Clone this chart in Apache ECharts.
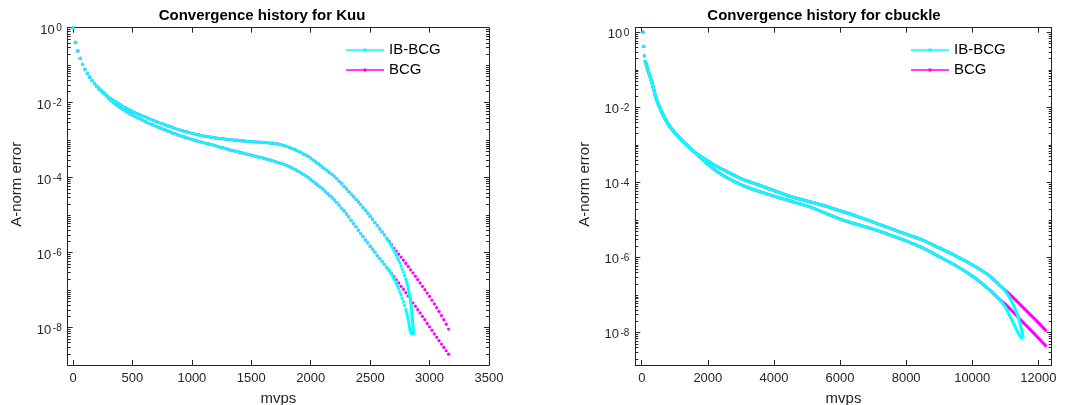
<!DOCTYPE html>
<html><head><meta charset="utf-8">
<script src="https://cdn.jsdelivr.net/npm/echarts@6/dist/echarts.min.js"></script>
<style>html,body{margin:0;padding:0;background:#fff}#c{width:1065px;height:405px}</style>
</head><body><div id="c"></div><script>
// ---------- DATA (y values are log10 of the A-norm error) ----------
const kuuBcgMvps = [
0,20,40,60,80,100,120,140,160,180,
200,220,240,260,280,300,320,340,360,380,
400,420,440,460,480,500,520,540,560,580,
600,620,640,660,680,700,720,740,760,780,
800,820,840,860,880,900,920,940,960,980,
1000,1020,1040,1060,1080,1100,1120,1140,1160,1180,
1200,1220,1240,1260,1280,1300,1320,1340,1360,1380,
1400,1420,1440,1460,1480,1500,1520,1540,1560,1580,
1600,1620,1640,1660,1680,1700,1720,1740,1760,1780,
1800,1820,1840,1860,1880,1900,1920,1940,1960,1980,
2000,2020,2040,2060,2080,2100,2120,2140,2160,2180,
2200,2220,2240,2260,2280,2300,2320,2340,2360,2380,
2400,2420,2440,2460,2480,2500,2520,2540,2560,2580,
2600,2620,2640,2660,2680,2700,2720,2740,2760,2780,
2800,2820,2840,2860,2880,2900,2920,2940,2960,2980,
3000,3020,3040,3060,3080,3100,3120,3140,3160];
const kuuBcgUpper = [
0,-0.39,-0.62,-0.82,-0.98,-1.11,-1.22,-1.32,-1.41,-1.49,
-1.56,-1.62,-1.68,-1.74,-1.80,-1.85,-1.90,-1.94,-1.98,-2.02,
-2.06,-2.10,-2.13,-2.17,-2.20,-2.23,-2.26,-2.29,-2.32,-2.35,
-2.37,-2.40,-2.43,-2.45,-2.48,-2.50,-2.53,-2.55,-2.57,-2.60,
-2.62,-2.64,-2.66,-2.69,-2.71,-2.73,-2.75,-2.77,-2.78,-2.80,
-2.82,-2.83,-2.85,-2.86,-2.88,-2.89,-2.90,-2.91,-2.92,-2.93,
-2.94,-2.95,-2.96,-2.96,-2.97,-2.98,-2.99,-2.99,-3.00,-3.00,
-3.01,-3.02,-3.02,-3.03,-3.03,-3.04,-3.04,-3.05,-3.05,-3.06,
-3.06,-3.07,-3.07,-3.08,-3.08,-3.09,-3.10,-3.11,-3.13,-3.15,
-3.17,-3.19,-3.22,-3.24,-3.27,-3.30,-3.33,-3.37,-3.40,-3.44,
-3.48,-3.53,-3.58,-3.62,-3.67,-3.72,-3.77,-3.82,-3.87,-3.92,
-3.97,-4.03,-4.10,-4.16,-4.23,-4.30,-4.37,-4.44,-4.51,-4.58,
-4.65,-4.72,-4.80,-4.87,-4.95,-5.03,-5.11,-5.20,-5.28,-5.37,
-5.45,-5.53,-5.62,-5.70,-5.79,-5.88,-5.96,-6.04,-6.12,-6.20,
-6.29,-6.37,-6.46,-6.54,-6.63,-6.72,-6.81,-6.90,-6.99,-7.08,
-7.17,-7.27,-7.37,-7.47,-7.57,-7.68,-7.79,-7.91,-8.04];
const kuuBcgLower = [
0,-0.39,-0.62,-0.82,-0.98,-1.11,-1.22,-1.32,-1.41,-1.49,
-1.57,-1.64,-1.70,-1.76,-1.82,-1.89,-1.95,-2.00,-2.05,-2.10,
-2.14,-2.18,-2.22,-2.26,-2.30,-2.33,-2.36,-2.40,-2.43,-2.46,
-2.49,-2.52,-2.55,-2.58,-2.60,-2.63,-2.66,-2.68,-2.71,-2.73,
-2.76,-2.78,-2.81,-2.83,-2.86,-2.88,-2.90,-2.92,-2.94,-2.96,
-2.98,-3.00,-3.02,-3.03,-3.05,-3.07,-3.09,-3.10,-3.12,-3.13,
-3.15,-3.17,-3.19,-3.20,-3.22,-3.24,-3.26,-3.27,-3.29,-3.30,
-3.32,-3.34,-3.35,-3.37,-3.38,-3.40,-3.42,-3.43,-3.45,-3.46,
-3.48,-3.50,-3.52,-3.53,-3.55,-3.57,-3.59,-3.61,-3.63,-3.65,
-3.68,-3.71,-3.74,-3.77,-3.80,-3.84,-3.88,-3.92,-3.96,-4.00,
-4.05,-4.10,-4.15,-4.20,-4.25,-4.30,-4.36,-4.42,-4.48,-4.54,
-4.60,-4.67,-4.74,-4.82,-4.89,-4.97,-5.05,-5.14,-5.22,-5.31,
-5.40,-5.49,-5.57,-5.66,-5.74,-5.83,-5.91,-5.99,-6.08,-6.16,
-6.24,-6.32,-6.40,-6.48,-6.56,-6.64,-6.73,-6.81,-6.90,-6.98,
-7.07,-7.16,-7.25,-7.34,-7.43,-7.52,-7.61,-7.70,-7.79,-7.89,
-7.98,-8.07,-8.17,-8.26,-8.35,-8.44,-8.53,-8.62,-8.71];
const kuuIbMvps = [
0,20,40,60,80,100,120,140,160,180,
200,220,240,260,280,300,320,340,360,380,
400,420,440,460,480,500,520,540,560,580,
600,620,640,660,680,700,720,740,760,780,
800,820,840,860,880,900,920,940,960,980,
1000,1020,1040,1060,1080,1100,1120,1140,1160,1180,
1200,1220,1240,1260,1280,1300,1320,1340,1360,1380,
1400,1420,1440,1460,1480,1500,1520,1540,1560,1580,
1600,1620,1640,1660,1680,1700,1720,1740,1760,1780,
1800,1820,1840,1860,1880,1900,1920,1940,1960,1980,
2000,2020,2040,2060,2080,2100,2120,2140,2160,2180,
2200,2220,2240,2260,2280,2300,2320,2340,2360,2380,
2400,2420,2440,2460,2480,2500,2520,2540,2560,2580,
2600,2620,2640,
2650,2660,2670,2680,2690,2700,2710,2720,2730,2740,2750,2760,2770,2780,2790,2800,
2805,2810,2815,2819,2823,2827,2830,2833,2836,2838,2840,2842,2844,2846,2848,
2849,2851,2852,2853,2854,2855,2856,2857,2858,2859,2860,2861,2862,2863];
const kuuIbUpper = [
0,-0.39,-0.62,-0.82,-0.98,-1.11,-1.22,-1.32,-1.41,-1.49,
-1.56,-1.62,-1.68,-1.74,-1.80,-1.85,-1.90,-1.94,-1.98,-2.02,
-2.06,-2.10,-2.13,-2.17,-2.20,-2.23,-2.26,-2.29,-2.32,-2.35,
-2.37,-2.40,-2.43,-2.45,-2.48,-2.50,-2.53,-2.55,-2.57,-2.60,
-2.62,-2.64,-2.66,-2.69,-2.71,-2.73,-2.75,-2.77,-2.78,-2.80,
-2.82,-2.83,-2.85,-2.86,-2.88,-2.89,-2.90,-2.91,-2.92,-2.93,
-2.94,-2.95,-2.96,-2.96,-2.97,-2.98,-2.99,-2.99,-3.00,-3.00,
-3.01,-3.02,-3.02,-3.03,-3.03,-3.04,-3.04,-3.05,-3.05,-3.06,
-3.06,-3.07,-3.07,-3.08,-3.08,-3.09,-3.10,-3.11,-3.13,-3.15,
-3.17,-3.19,-3.22,-3.24,-3.27,-3.30,-3.33,-3.37,-3.40,-3.44,
-3.48,-3.53,-3.58,-3.62,-3.67,-3.72,-3.77,-3.82,-3.87,-3.92,
-3.97,-4.03,-4.10,-4.16,-4.23,-4.30,-4.37,-4.44,-4.51,-4.58,
-4.65,-4.72,-4.80,-4.87,-4.95,-5.03,-5.11,-5.20,-5.28,-5.37,
-5.45,-5.53,-5.62,
-5.67,-5.72,-5.77,-5.82,-5.88,-5.94,-6.00,-6.07,-6.14,-6.21,-6.28,-6.36,-6.44,-6.52,-6.61,-6.70,
-6.76,-6.82,-6.88,-6.94,-7.00,-7.06,-7.11,-7.16,-7.21,-7.25,-7.30,-7.35,-7.40,-7.45,-7.50,
-7.54,-7.59,-7.63,-7.67,-7.71,-7.75,-7.79,-7.83,-7.87,-7.91,-7.96,-8.01,-8.07,-8.13];
const kuuIbLower = [
0,-0.39,-0.62,-0.82,-0.98,-1.11,-1.22,-1.32,-1.41,-1.49,
-1.57,-1.64,-1.70,-1.76,-1.82,-1.89,-1.95,-2.00,-2.05,-2.10,
-2.14,-2.18,-2.22,-2.26,-2.30,-2.33,-2.36,-2.40,-2.43,-2.46,
-2.49,-2.52,-2.55,-2.58,-2.60,-2.63,-2.66,-2.68,-2.71,-2.73,
-2.76,-2.78,-2.81,-2.83,-2.86,-2.88,-2.90,-2.92,-2.94,-2.96,
-2.98,-3.00,-3.02,-3.03,-3.05,-3.07,-3.09,-3.10,-3.12,-3.13,
-3.15,-3.17,-3.19,-3.20,-3.22,-3.24,-3.26,-3.27,-3.29,-3.30,
-3.32,-3.34,-3.35,-3.37,-3.38,-3.40,-3.42,-3.43,-3.45,-3.46,
-3.48,-3.50,-3.52,-3.53,-3.55,-3.57,-3.59,-3.61,-3.63,-3.65,
-3.68,-3.71,-3.74,-3.77,-3.80,-3.84,-3.88,-3.92,-3.96,-4.00,
-4.05,-4.10,-4.15,-4.20,-4.25,-4.30,-4.36,-4.42,-4.48,-4.54,
-4.60,-4.67,-4.74,-4.82,-4.89,-4.97,-5.05,-5.14,-5.22,-5.31,
-5.40,-5.49,-5.57,-5.66,-5.74,-5.83,-5.91,-5.99,-6.08,-6.16,
-6.24,-6.32,-6.40,
-6.44,-6.48,-6.53,-6.58,-6.64,-6.70,-6.76,-6.83,-6.90,-6.97,-7.05,-7.13,-7.22,-7.31,-7.41,-7.52,
-7.58,-7.65,-7.72,-7.78,-7.84,-7.90,-7.95,-8.00,-8.05,-8.08,-8.10,-8.12,-8.13,-8.14,-8.14,
-8.15,-8.15,-8.15,-8.15,-8.15,-8.15,-8.15,-8.15,-8.15,-8.15,-8.15,-8.15,-8.15,-8.15];

const cbIbMvps = [40,60,80,100,200,300,450,600,800,1000,1200,1500,1700,2000,2200,2500,3000,3500,4000,4500,5000,5500,6000,6500,7000,7500,8000,8500,9000,9500,10000,10500,10800,11000,11160,11300,11410,11480,11520,11545];
const cbIbUpper = [0,-0.38,-0.63,-0.75,-1.05,-1.32,-1.80,-2.12,-2.45,-2.68,-2.87,-3.12,-3.26,-3.43,-3.54,-3.68,-3.90,-4.06,-4.22,-4.38,-4.50,-4.62,-4.76,-4.90,-5.06,-5.22,-5.38,-5.54,-5.75,-5.96,-6.20,-6.48,-6.72,-6.90,-7.12,-7.38,-7.64,-7.88,-8.04,-8.13];
const cbIbLower = [0,-0.38,-0.63,-0.75,-1.05,-1.32,-1.80,-2.12,-2.45,-2.68,-2.87,-3.12,-3.28,-3.52,-3.66,-3.84,-4.06,-4.23,-4.37,-4.50,-4.63,-4.80,-4.98,-5.12,-5.25,-5.40,-5.56,-5.75,-5.98,-6.22,-6.50,-6.85,-7.10,-7.32,-7.60,-7.85,-8.05,-8.14,-8.15,-8.15];
const cbBcgMvps = [40,60,80,100,200,300,450,600,800,1000,1200,1500,1700,2000,2200,2500,3000,3500,4000,4500,5000,5500,6000,6500,7000,7500,8000,8500,9000,9500,10000,10500,10800,11000,11250,11500,11750,12000,12250];
const cbBcgUpper = [0,-0.38,-0.63,-0.75,-1.05,-1.32,-1.80,-2.12,-2.45,-2.68,-2.87,-3.12,-3.26,-3.43,-3.54,-3.68,-3.90,-4.06,-4.22,-4.38,-4.50,-4.62,-4.76,-4.90,-5.06,-5.22,-5.38,-5.54,-5.75,-5.96,-6.20,-6.48,-6.72,-6.88,-7.08,-7.30,-7.52,-7.74,-7.97];
const cbBcgLower = [0,-0.38,-0.63,-0.75,-1.05,-1.32,-1.80,-2.12,-2.45,-2.68,-2.87,-3.12,-3.28,-3.52,-3.66,-3.84,-4.06,-4.23,-4.37,-4.50,-4.63,-4.80,-4.98,-5.12,-5.25,-5.40,-5.56,-5.75,-5.98,-6.22,-6.50,-6.85,-7.10,-7.25,-7.47,-7.70,-7.92,-8.15,-8.38];

const kuuXTicks = [0,500,1000,1500,2000,2500,3000,3500];
const cbXTicks = [0,2000,4000,6000,8000,10000,12000];
const yTickExps = [-8,-6,-4,-2,0];
const minorMantissas = [1,2,3,4,5,6,7,8,9];
const seriesNames = ['IB-BCG','BCG'];
const titles = ['Convergence history for Kuu','Convergence history for cbuckle'];

// ---------- STYLE ----------
const FONT = '"Liberation Sans", Arial, Helvetica, sans-serif';
const AX = '#262626';
const CYAN = '#00ffff', MAGENTA = '#ff00ff';

const panels = [
  {grid:{left:67.7, top:27.7, width:421.3, height:337.3}, xMin:-45, xMax:3500, xTicks:kuuXTicks, yMin:-9, yMax:0, titleX:262, legendLeft:346},
  {grid:{left:635.3, top:27.7, width:416.4, height:337.3}, xMin:-195, xMax:12405, xTicks:cbXTicks, yMin:-8.87, yMax:0.12, titleX:824, legendLeft:911}
];

function pts(xs, ys, from, to) {
  const out = [];
  const n = Math.min(xs.length, ys.length);
  for (let i = from || 0; i < (to == null ? n : Math.min(to, n)); i++) out.push([xs[i], ys[i]]);
  return out;
}
function minorValues(lo, hi) {
  const v = [];
  for (let k = Math.floor(lo); k <= Math.ceil(hi); k++) {
    minorMantissas.forEach(m => {
      const t = k + Math.log10(m);
      if (t < lo || t > hi) return;
      if (m === 1 && yTickExps.indexOf(k) >= 0) return;
      v.push(t);
    });
  }
  return v;
}

const grids = [], xAxes = [], yAxes = [], series = [], legends = [], titleOpts = [];
const legendIcon = 'path://M0,2.2 L38,2.2 L38,3.8 L0,3.8 Z M19,1.2 A1.8,1.8,0,1,1,19,4.8 A1.8,1.8,0,1,1,19,1.2 Z';

panels.forEach((p, i) => {
  grids.push(Object.assign({outerBoundsMode:'none', containLabel:false}, p.grid));
  const xBase = {
    type:'value', gridIndex:i, min:p.xMin, max:p.xMax,
    axisLine:{show:true, onZero:false, lineStyle:{color:AX, width:1}},
    axisTick:{show:true, inside:true, length:5, customValues:p.xTicks, lineStyle:{color:AX, width:1}},
    splitLine:{show:false}
  };
  xAxes.push(Object.assign({}, xBase, {
    position:'bottom',
    axisLabel:{show:true, customValues:p.xTicks, margin:7, fontSize:13, color:AX, fontFamily:FONT, formatter:v => String(v)},
    name:'mvps', nameLocation:'middle', nameGap:26,
    nameTextStyle:{fontSize:15, color:AX, fontFamily:FONT}
  }));
  xAxes.push(Object.assign({}, xBase, {position:'top', axisLabel:{show:false}}));
  const yBase = {
    type:'value', gridIndex:i, min:p.yMin, max:p.yMax,
    axisLine:{show:true, onZero:false, lineStyle:{color:AX, width:1}},
    axisTick:{show:true, inside:true, length:5, customValues:yTickExps, lineStyle:{color:AX, width:1}},
    splitLine:{show:false}
  };
  yAxes.push(Object.assign({}, yBase, {
    position:'left',
    axisLabel:{show:true, customValues:yTickExps, margin:6, fontFamily:FONT, color:AX, padding:[5,0,0,0],
      formatter:v => '{b|10}{s|' + v + '}',
      rich:{
        b:{fontSize:13, lineHeight:13, verticalAlign:'bottom', fontFamily:FONT, color:AX},
        s:{fontSize:10, lineHeight:10, verticalAlign:'top', padding:[0,0,7,1.5], fontFamily:FONT, color:AX}
      }},
    name:'A-norm error', nameLocation:'middle', nameGap:43,
    nameTextStyle:{fontSize:15, color:AX, fontFamily:FONT, padding:[0,0,0,24]}
  }));
  yAxes.push(Object.assign({}, yBase, {position:'right', axisLabel:{show:false}}));

  titleOpts.push({text:titles[i], left:p.titleX, top:8, textAlign:'center', padding:0,
    textStyle:{fontSize:15, fontWeight:'bold', color:'#000', fontFamily:FONT}});

  legends.push({
    orient:'vertical', left:p.legendLeft, top:42.5, padding:0,
    itemWidth:38, itemHeight:6, itemGap:5, selectedMode:false,
    textStyle:{fontSize:15, color:'#000', fontFamily:FONT, lineHeight:15},
    data:seriesNames.map(n => ({name:n, icon:legendIcon}))
  });

  // minor log ticks on the left and right box edges
  series.push({
    type:'custom', xAxisIndex:2*i, yAxisIndex:2*i, silent:true, z:5, clip:false,
    data:minorValues(p.yMin, p.yMax).map(v => [p.xMin, v]),
    renderItem:(params, api) => {
      const cs = params.coordSys;
      const y = Math.round(api.coord([api.value(0), api.value(1)])[1]) + 0.5;
      const st = {stroke:AX, lineWidth:1};
      return {type:'group', children:[
        {type:'line', shape:{x1:cs.x, y1:y, x2:cs.x + 3, y2:y}, style:st},
        {type:'line', shape:{x1:cs.x + cs.width - 3, y1:y, x2:cs.x + cs.width, y2:y}, style:st}
      ]};
    }
  });
});

// Kuu: one marker per iteration
function kuuScatter(name, color, xs, ys) {
  return {type:'scatter', name, xAxisIndex:0, yAxisIndex:0, symbol:'circle', symbolSize:3.2,
    itemStyle:{color, opacity:1}, data:pts(xs, ys), silent:true, large:false};
}
series.push(kuuScatter('BCG', MAGENTA, kuuBcgMvps, kuuBcgUpper));
series.push(kuuScatter('BCG', MAGENTA, kuuBcgMvps, kuuBcgLower));
series.push(kuuScatter('IB-BCG', CYAN, kuuIbMvps, kuuIbUpper));
series.push(kuuScatter('IB-BCG', CYAN, kuuIbMvps, kuuIbLower));

// cbuckle: first iterations as separate dots, then dense markers drawn as a thick line
function cbSeries(name, color, xs, ys) {
  return [
    {type:'scatter', name, xAxisIndex:2, yAxisIndex:2, symbol:'circle', symbolSize:3.2,
      itemStyle:{color}, data:pts(xs, ys, 0, 3), silent:true},
    {type:'line', name, xAxisIndex:2, yAxisIndex:2, symbol:'none', smooth:0.25,
      lineStyle:{color, width:3}, itemStyle:{color}, data:pts(xs, ys, 3), silent:true}
  ];
}
series.push(...cbSeries('BCG', MAGENTA, cbBcgMvps, cbBcgUpper));
series.push(...cbSeries('BCG', MAGENTA, cbBcgMvps, cbBcgLower));
series.push(...cbSeries('IB-BCG', CYAN, cbIbMvps, cbIbUpper));
series.push(...cbSeries('IB-BCG', CYAN, cbIbMvps, cbIbLower));

const chart = echarts.init(document.getElementById('c'), null, {renderer:'canvas'});
chart.setOption({
  animation:false,
  backgroundColor:'#fff',
  title:titleOpts,
  legend:legends,
  grid:grids,
  xAxis:xAxes,
  yAxis:yAxes,
  series
});
</script></body></html>
